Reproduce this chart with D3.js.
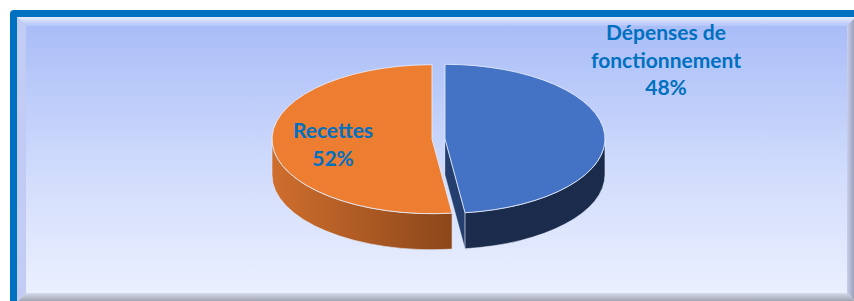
<!DOCTYPE html>
<html>
<head>
<meta charset="utf-8">
<script src="https://cdn.jsdelivr.net/npm/d3@7/dist/d3.min.js"></script>
<style>
  html, body { margin: 0; padding: 0; background: #fff; }
  svg { display: block; }
</style>
</head>
<body>
<svg id="chart" width="854" height="301"></svg>
<script>
// Chart data
var categories = ['Dépenses de fonctionnement', 'Recettes'];
var categoryLines = [['Dépenses de', 'fonctionnement'], ['Recettes']];
var values = [48, 52];
var topColours = ['#4472c4', '#ed7d31'];
var sideColours = [['#243f6e', '#1b2b4c'], ['#cf6e2e', '#874418']];

var W = 854, H = 301;
var svg = d3.select('#chart');
var defs = svg.append('defs');

// ---- Frame ----
var bg = defs.append('linearGradient').attr('id', 'bg')
    .attr('x1', 0).attr('y1', 0).attr('x2', 0).attr('y2', 1);
bg.append('stop').attr('offset', '0%').attr('stop-color', '#a7bbf7');
bg.append('stop').attr('offset', '55%').attr('stop-color', '#d2ddfc');
bg.append('stop').attr('offset', '100%').attr('stop-color', '#eef2ff');

svg.append('rect')
    .attr('x', 10).attr('y', 10).attr('width', 860).attr('height', 320)
    .attr('rx', 4).attr('fill', '#0070c0');

svg.append('rect')
    .attr('x', 17).attr('y', 17).attr('width', 840).attr('height', 290)
    .attr('fill', 'url(#bg)');

// bevels
var bevTop = defs.append('linearGradient').attr('id', 'bevTop')
    .attr('x1', 0).attr('y1', 0).attr('x2', 0).attr('y2', 1);
bevTop.append('stop').attr('offset', '0%').attr('stop-color', '#e4ecff');
bevTop.append('stop').attr('offset', '100%').attr('stop-color', '#b4c6fa');

var bevBot = defs.append('linearGradient').attr('id', 'bevBot')
    .attr('x1', 0).attr('y1', 0).attr('x2', 0).attr('y2', 1);
bevBot.append('stop').attr('offset', '0%').attr('stop-color', '#d6dbeb');
bevBot.append('stop').attr('offset', '100%').attr('stop-color', '#9a9eac');

var bevRight = defs.append('linearGradient').attr('id', 'bevRight')
    .attr('x1', 0).attr('y1', 0).attr('x2', 1).attr('y2', 0);
bevRight.append('stop').attr('offset', '0%').attr('stop-color', '#c9cfec');
bevRight.append('stop').attr('offset', '100%').attr('stop-color', '#8f95ab');

var L = 17, T = 17, R = 856, B = 302, bw = 9;
var bevels = [
    { pts: [[L, T], [R, T], [R - bw, T + bw], [L + bw, T + bw]], fill: 'url(#bevTop)' },
    { pts: [[L, T], [L + bw, T + bw], [L + bw, B - bw], [L, B]], fill: '#c2cbf4' },
    { pts: [[L, B], [L + bw, B - bw], [R - bw, B - bw], [R, B]], fill: 'url(#bevBot)' },
    { pts: [[R, T], [R - bw, T + bw], [R - bw, B - bw], [R, B]], fill: 'url(#bevRight)' }
];
svg.selectAll('.bevel').data(bevels).enter().append('path')
    .attr('class', 'bevel')
    .attr('d', function (d) { return 'M' + d.pts.join('L') + 'Z'; })
    .attr('fill', function (d) { return d.fill; });

// ---- 3D pie ----
var cx = 438.5, cy = 139, rx = 160, ry = 74.5, depth = 36, explode = 6.5;

var pie = d3.pie().sort(null).value(function (d) { return d; });
var arcs = pie(values);

function pt(a, ox, oy, dz) {
    return [ox + rx * Math.sin(a), oy - ry * Math.cos(a) + (dz || 0)];
}

arcs.forEach(function (d, i) {
    var mid = (d.startAngle + d.endAngle) / 2;
    d.ox = cx + explode * Math.sin(mid);
    d.oy = cy - explode * (ry / rx) * Math.cos(mid);
    d.index = i;
});

var edge = '#e6edfd';

// side gradients
arcs.forEach(function (d, i) {
    var g = defs.append('linearGradient').attr('id', 'side' + i)
        .attr('gradientUnits', 'userSpaceOnUse')
        .attr('x1', d.ox - rx).attr('x2', d.ox + rx * Math.max(0.2, Math.sin(d.endAngle)))
        .attr('y1', 0).attr('y2', 0);
    g.append('stop').attr('offset', '0%').attr('stop-color', sideColours[i][0]);
    g.append('stop').attr('offset', '100%').attr('stop-color', sideColours[i][1]);
});

// radial cut faces that face the viewer
var cutFaces = [];
arcs.forEach(function (d) {
    if (Math.sin(d.endAngle) > 0.01) cutFaces.push({ d: d, a: d.endAngle });
    if (-Math.sin(d.startAngle) > 0.01) cutFaces.push({ d: d, a: d.startAngle });
});

svg.selectAll('.cut').data(cutFaces).enter().append('path')
    .attr('class', 'cut')
    .attr('d', function (f) {
        var c0 = [f.d.ox, f.d.oy], p0 = pt(f.a, f.d.ox, f.d.oy);
        var p1 = pt(f.a, f.d.ox, f.d.oy, depth), c1 = [f.d.ox, f.d.oy + depth];
        return 'M' + [c0, p0, p1, c1].join('L') + 'Z';
    })
    .attr('fill', function (f) { return sideColours[f.d.index][0]; })
    .attr('stroke', edge).attr('stroke-width', 0.6).attr('stroke-opacity', 0.5);

// outer walls (front half only)
svg.selectAll('.wall').data(arcs.filter(function (d) {
        return Math.min(d.endAngle, 1.5 * Math.PI) > Math.max(d.startAngle, 0.5 * Math.PI);
    })).enter().append('path')
    .attr('class', 'wall')
    .attr('d', function (d) {
        var s = Math.max(d.startAngle, 0.5 * Math.PI);
        var e = Math.min(d.endAngle, 1.5 * Math.PI);
        var large = (e - s) > Math.PI ? 1 : 0;
        var a = pt(s, d.ox, d.oy), b = pt(e, d.ox, d.oy);
        var b2 = pt(e, d.ox, d.oy, depth), a2 = pt(s, d.ox, d.oy, depth);
        return 'M' + a + 'A' + rx + ',' + ry + ' 0 ' + large + ' 1 ' + b +
               'L' + b2 + 'A' + rx + ',' + ry + ' 0 ' + large + ' 0 ' + a2 + 'Z';
    })
    .attr('fill', function (d) { return 'url(#side' + d.index + ')'; })
    .attr('stroke', edge).attr('stroke-width', 0.8).attr('stroke-opacity', 0.7);

// top faces
svg.selectAll('.top').data(arcs).enter().append('path')
    .attr('class', 'top')
    .attr('d', function (d) {
        var large = (d.endAngle - d.startAngle) > Math.PI ? 1 : 0;
        var a = pt(d.startAngle, d.ox, d.oy), b = pt(d.endAngle, d.ox, d.oy);
        return 'M' + [d.ox, d.oy] + 'L' + a + 'A' + rx + ',' + ry + ' 0 ' + large + ' 1 ' + b + 'Z';
    })
    .attr('fill', function (d) { return topColours[d.index]; })
    .attr('stroke', edge).attr('stroke-width', 1).attr('stroke-opacity', 0.85);

// ---- Labels ----
var total = d3.sum(values);
var pct = d3.format('.0%');
var labelPos = [[666, 40], [333, 138]];
var lineH = 27.5;

arcs.forEach(function (d, i) {
    var lines = categoryLines[i].concat([pct(values[i] / total)]);
    var t = svg.append('text')
        .attr('x', labelPos[i][0]).attr('y', labelPos[i][1])
        .attr('text-anchor', 'middle')
        .attr('font-family', 'Lato, "Open Sans", sans-serif')
        .attr('font-weight', 'bold')
        .attr('font-size', '21px')
        .attr('fill', '#0070c0');
    t.selectAll('tspan').data(lines).enter().append('tspan')
        .attr('x', labelPos[i][0])
        .attr('dy', function (l, j) { return j === 0 ? 0 : lineH; })
        .text(function (l) { return l; });
});
</script>
</body>
</html>
